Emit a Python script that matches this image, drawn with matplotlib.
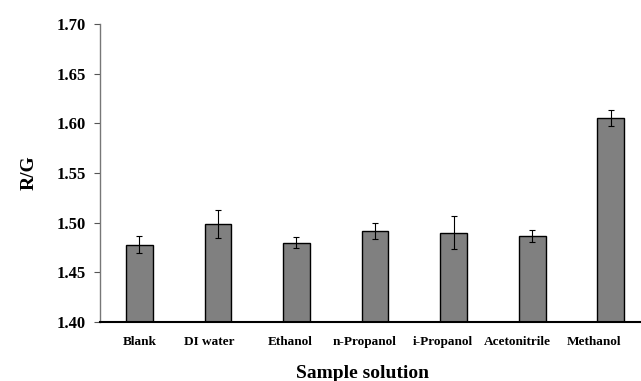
import numpy as np
import matplotlib.pyplot as plt
from matplotlib.transforms import ScaledTranslation

# ===== data =====
samples = ["Blank", "DI water", "Ethanol", "n-Propanol", "i-Propanol", "Acetonitrile", "Methanol"]
rg_mean = [1.478, 1.499, 1.480, 1.492, 1.490, 1.487, 1.605]
rg_err = [0.009, 0.014, 0.006, 0.008, 0.017, 0.006, 0.008]
y_ticks = [1.40, 1.45, 1.50, 1.55, 1.60, 1.65, 1.70]

plt.rcParams['font.family'] = ['Liberation Serif', 'DejaVu Serif']
plt.rcParams['font.weight'] = 'bold'

fig = plt.figure(figsize=(6.41, 3.81), dpi=100)
ax = fig.add_axes([100 / 641, 1 - 322 / 381, 550 / 641, 298 / 381])

x = np.arange(len(samples))
ax.bar(x, rg_mean, width=0.34, color="#808080", edgecolor="black", linewidth=1.0,
       yerr=rg_err, error_kw=dict(ecolor="black", elinewidth=0.8, capsize=2, capthick=0.8))

ax.set_xlim(-0.5, len(samples) - 0.5)
ax.set_ylim(1.40, 1.70)
ax.set_yticks(y_ticks)
ax.set_yticklabels([f"{v:.2f}" for v in y_ticks], fontsize=12, fontweight="bold")
ax.set_xticks(x)
ax.set_xticklabels(samples, fontsize=9.5, fontweight="bold")
ax.tick_params(axis="x", length=0, pad=10)
ax.tick_params(axis="y", direction="out", length=4, width=0.8, color="#555555", pad=6)

# category labels in the original sit a little left of their bars
shift_px = [0, -9, -6, -10, -11, -15, -17]
for lab, dx in zip(ax.get_xticklabels(), shift_px):
    lab.set_transform(lab.get_transform() + ScaledTranslation(dx / 100, 0, fig.dpi_scale_trans))

for s in ["top", "right"]:
    ax.spines[s].set_visible(False)
ax.spines["left"].set_color("#777777")
ax.spines["left"].set_linewidth(1.0)
ax.spines["bottom"].set_color("black")
ax.spines["bottom"].set_linewidth(1.5)

ax.set_ylabel("R/G", fontsize=14, fontweight="bold", labelpad=14)
fig.text(363 / 641, 1 - 374 / 381, "Sample solution", fontsize=14, fontweight="bold",
         ha="center", va="center")

fig.savefig("out.png", dpi=100)
